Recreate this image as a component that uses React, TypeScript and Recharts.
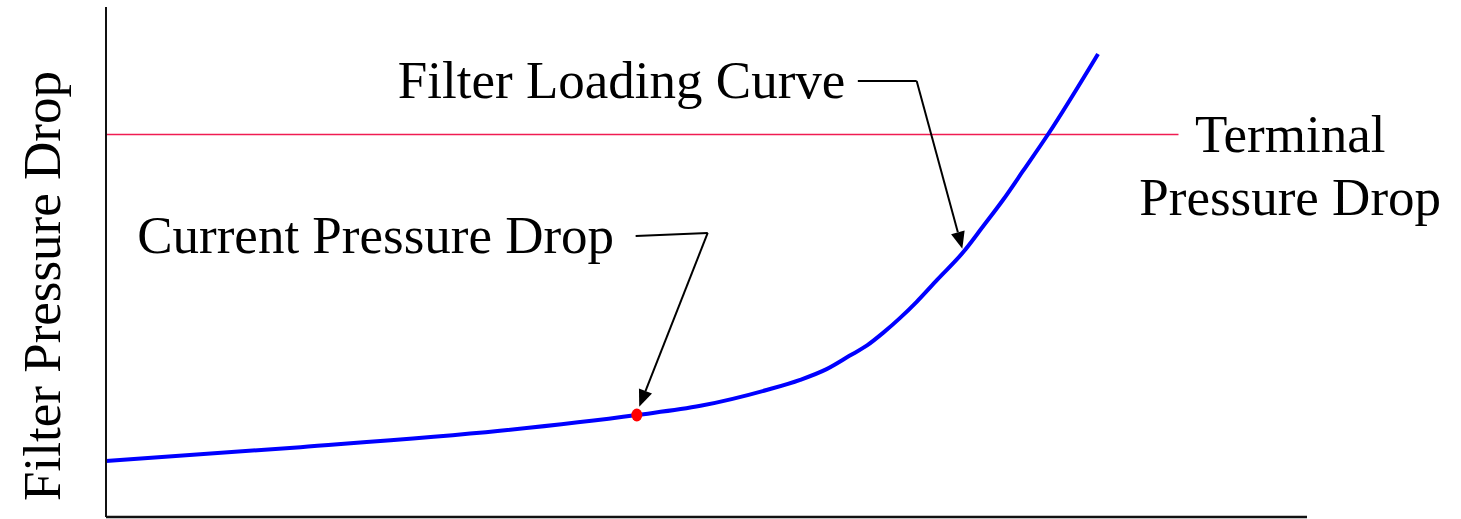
import React from 'react';
import { ComposedChart, Line, XAxis, YAxis, ReferenceLine, ReferenceDot } from 'recharts';

// filter loading curve (x = time/dust load, y = pressure drop)
const loadX = [0, 16.2, 32.8, 44.2, 49.5, 55.0, 57.8, 60.0, 61.9, 63.4, 64.7, 66.1, 67.5, 69.2, 71.4, 73.0, 74.7, 76.4, 78.4, 82.6];
const dropY = [11.0, 13.7, 16.9, 20.0, 21.8, 24.9, 26.9, 29.0, 31.6, 33.7, 36.1, 39.0, 42.2, 46.5, 52.0, 56.9, 62.2, 68.0, 74.9, 90.8];

const terminalDrop = 75;
const terminalEndX = 89.3;
const currentX = 44.2;
const currentY = 20.0;

const curveData = loadX.map((x, i) => ({ x, y: dropY[i] }));

const FONT = '"Liberation Serif", "Times New Roman", serif';

const TextShape = (text: string, anchor: 'start' | 'middle' | 'end') => (props: any) => (
  <text x={props.cx} y={props.cy} textAnchor={anchor} fontFamily={FONT} fontSize={53} fill="#000">
    {text}
  </text>
);

const ArrowShape = (props: any) => {
  const { x1, y1, x2, y2 } = props;
  const ang = Math.atan2(y2 - y1, x2 - x1);
  const len = 17;
  const half = 7;
  const bx = x2 - len * Math.cos(ang);
  const by = y2 - len * Math.sin(ang);
  const px = -Math.sin(ang) * half;
  const py = Math.cos(ang) * half;
  return (
    <g>
      <line x1={x1} y1={y1} x2={bx} y2={by} stroke="#000" strokeWidth={2} />
      <polygon points={`${x2},${y2} ${bx + px},${by + py} ${bx - px},${by - py}`} fill="#000" />
    </g>
  );
};

const YLabel = (props: any) => {
  const vb = props.viewBox || { x: 46, y: 7, width: 60, height: 510 };
  const x = vb.x + vb.width - 46;
  const y = vb.y + vb.height * 0.547;
  return (
    <text x={x} y={y} transform={`rotate(-90, ${x}, ${y})`} textAnchor="middle" fontFamily={FONT} fontSize={53} fill="#000">
      Filter Pressure Drop
    </text>
  );
};

export default function App() {
  return (
    <div style={{ position: 'absolute', left: 0, top: 0, background: '#fff' }}>
      <ComposedChart width={1461} height={519} data={curveData} margin={{ top: 7, right: 154, left: 46, bottom: 0 }}>
        <XAxis dataKey="x" type="number" domain={[0, 100]} tick={false} tickLine={false} height={2}
          axisLine={{ stroke: '#111', strokeWidth: 2.5 }} />
        <YAxis type="number" domain={[0, 100]} tick={false} tickLine={false} width={60}
          axisLine={{ stroke: '#111', strokeWidth: 2 }} label={{ content: YLabel }} />

        <ReferenceLine segment={[{ x: 0, y: terminalDrop }, { x: terminalEndX, y: terminalDrop }]}
          stroke="#f01c52" strokeWidth={1.5} ifOverflow="visible" />

        <Line dataKey="y" type="monotone" stroke="#0000ff" strokeWidth={4} dot={false} isAnimationActive={false} />

        <ReferenceDot x={currentX} y={currentY} ifOverflow="visible"
          shape={(p: any) => <ellipse cx={p.cx} cy={p.cy} rx={5.5} ry={6.5} fill="#ff0000" />} />

        {/* Filter Loading Curve callout */}
        <ReferenceDot x={24.3} y={82.2} ifOverflow="visible" shape={TextShape('Filter Loading Curve', 'start')} />
        <ReferenceLine segment={[{ x: 62.6, y: 85.5 }, { x: 67.5, y: 85.5 }]} stroke="#000" strokeWidth={2} ifOverflow="visible" />
        <ReferenceLine segment={[{ x: 67.5, y: 85.5 }, { x: 71.3, y: 52.6 }]} shape={ArrowShape} ifOverflow="visible" />

        {/* Current Pressure Drop callout */}
        <ReferenceDot x={2.6} y={51.8} ifOverflow="visible" shape={TextShape('Current Pressure Drop', 'start')} />
        <ReferenceLine segment={[{ x: 44.1, y: 55.1 }, { x: 50.1, y: 55.7 }]} stroke="#000" strokeWidth={2} ifOverflow="visible" />
        <ReferenceLine segment={[{ x: 50.1, y: 55.7 }, { x: 44.4, y: 21.6 }]} shape={ArrowShape} ifOverflow="visible" />

        {/* Terminal Pressure Drop label */}
        <ReferenceDot x={98.6} y={71.6} ifOverflow="visible" shape={TextShape('Terminal', 'middle')} />
        <ReferenceDot x={98.6} y={59.2} ifOverflow="visible" shape={TextShape('Pressure Drop', 'middle')} />
      </ComposedChart>
    </div>
  );
}
